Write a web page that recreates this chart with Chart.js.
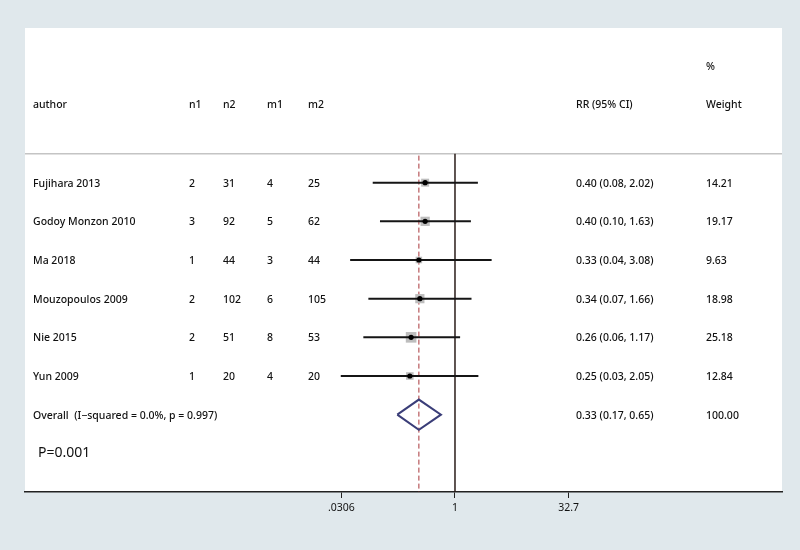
<!DOCTYPE html>
<html>
<head>
<meta charset="utf-8">
<script src="https://cdn.jsdelivr.net/npm/chart.js@4"></script>
<style>
  html, body { margin: 0; padding: 0; background: #e0e8ec; }
  #wrap { width: 800px; height: 550px; }
</style>
</head>
<body>
<div id="wrap"><canvas id="chart" width="800" height="550"></canvas></div>
<script>
// Données des études
const authors = ['Fujihara 2013', 'Godoy Monzon 2010', 'Ma 2018', 'Mouzopoulos 2009', 'Nie 2015', 'Yun 2009'];
const n1 = [2, 3, 1, 2, 2, 1];
const n2 = [31, 92, 44, 102, 51, 20];
const m1 = [4, 5, 3, 6, 8, 4];
const m2 = [25, 62, 44, 105, 53, 20];
const rr = [0.40, 0.40, 0.33, 0.34, 0.26, 0.25];
const rrLow = [0.08, 0.10, 0.04, 0.07, 0.06, 0.03];
const rrHigh = [2.02, 1.63, 3.08, 1.66, 1.17, 2.05];
const weights = [14.21, 19.17, 9.63, 18.98, 25.18, 12.84];

const overallLabel = 'Overall  (I\u2212squared = 0.0%, p = 0.997)';
const overallRR = 0.33;
const overallLow = 0.17;
const overallHigh = 0.65;
const overallWeight = '100.00';

const tickValues = [0.0306, 1, 32.7];
const tickLabels = ['.0306', '1', '32.7'];

const textFont = '500 10.5px "Noto Sans", sans-serif';
const textColor = '#111';

const overallRow = authors.length;
const fmt = v => v.toFixed(2);

// Datasets (order: plus petit = dessiné au-dessus)
const datasets = [];

// ligne de nullité
datasets.push({
    type: 'scatter',
    order: 5,
    data: [{ x: 1, y: -0.75 }, { x: 1, y: 8 }],
    showLine: true,
    borderColor: '#2a1d1a',
    borderWidth: 1.5,
    pointRadius: 0
});

// ligne de l'effet global
datasets.push({
    type: 'scatter',
    order: 4,
    data: [{ x: overallRR, y: -0.7 }, { x: overallRR, y: 8 }],
    showLine: true,
    borderColor: '#a8353a',
    borderWidth: 1,
    borderDash: [5, 3],
    pointRadius: 0
});

// carrés gris (poids)
datasets.push({
    type: 'scatter',
    order: 3,
    data: rr.map((v, i) => ({ x: v, y: i })),
    pointStyle: 'rect',
    pointRadius: weights.map(w => 7.5 * Math.sqrt(w / 25.18)),
    backgroundColor: '#bdbdbd',
    borderWidth: 0
});

// intervalles de confiance
authors.forEach((a, i) => {
    datasets.push({
        type: 'scatter',
        order: 2,
        data: [{ x: rrLow[i], y: i }, { x: rrHigh[i], y: i }],
        showLine: true,
        borderColor: '#151515',
        borderWidth: 2,
        pointRadius: 0
    });
});

// points centraux
datasets.push({
    type: 'scatter',
    order: 1,
    data: rr.map((v, i) => ({ x: v, y: i })),
    pointStyle: 'circle',
    pointRadius: 2.6,
    backgroundColor: '#000',
    borderWidth: 0
});

// losange global
datasets.push({
    type: 'scatter',
    order: 0,
    data: [
        { x: overallLow, y: overallRow },
        { x: overallRR, y: overallRow - 0.39 },
        { x: overallHigh, y: overallRow },
        { x: overallRR, y: overallRow + 0.39 },
        { x: overallLow, y: overallRow }
    ],
    showLine: true,
    borderColor: '#3a3d78',
    borderWidth: 2,
    pointRadius: 0,
    tension: 0
});

// Fond et textes du tableau
const tablePlugin = {
    id: 'table',
    beforeDraw(chart) {
        const { ctx, chartArea } = chart;
        ctx.save();
        ctx.fillStyle = '#e0e8ec';
        ctx.fillRect(0, 0, chart.width, chart.height);
        ctx.fillStyle = '#ffffff';
        ctx.fillRect(chartArea.left, chartArea.top, chartArea.right - chartArea.left, chartArea.bottom - chartArea.top);
        // séparateur sous l'en-tête
        const ySep = chart.scales.y.getPixelForValue(-0.75);
        ctx.strokeStyle = '#c4c4c4';
        ctx.lineWidth = 1.5;
        ctx.beginPath();
        ctx.moveTo(chartArea.left, ySep);
        ctx.lineTo(chartArea.right, ySep);
        ctx.stroke();
        ctx.restore();
    },
    afterDraw(chart) {
        const { ctx } = chart;
        const y = chart.scales.y;
        const cols = { author: 33, n1: 189, n2: 223, m1: 267, m2: 308, ci: 576, w: 706 };
        ctx.save();
        ctx.fillStyle = textColor;
        ctx.font = textFont;
        ctx.textBaseline = 'middle';
        ctx.textAlign = 'left';

        // en-tête
        const yHead = y.getPixelForValue(-2);
        ctx.fillText('author', cols.author, yHead);
        ctx.fillText('n1', cols.n1, yHead);
        ctx.fillText('n2', cols.n2, yHead);
        ctx.fillText('m1', cols.m1, yHead);
        ctx.fillText('m2', cols.m2, yHead);
        ctx.fillText('RR (95% CI)', cols.ci, yHead);
        ctx.fillText('Weight', cols.w, yHead);
        ctx.fillText('%', cols.w, y.getPixelForValue(-3));

        authors.forEach((a, i) => {
            const py = y.getPixelForValue(i) + 1;
            ctx.fillText(a, cols.author, py);
            ctx.fillText(String(n1[i]), cols.n1, py);
            ctx.fillText(String(n2[i]), cols.n2, py);
            ctx.fillText(String(m1[i]), cols.m1, py);
            ctx.fillText(String(m2[i]), cols.m2, py);
            ctx.fillText(`${fmt(rr[i])} (${fmt(rrLow[i])}, ${fmt(rrHigh[i])})`, cols.ci, py);
            ctx.fillText(fmt(weights[i]), cols.w, py);
        });

        const po = y.getPixelForValue(overallRow) + 1;
        ctx.fillText(overallLabel, cols.author, po);
        ctx.fillText(`${fmt(overallRR)} (${fmt(overallLow)}, ${fmt(overallHigh)})`, cols.ci, po);
        ctx.fillText(overallWeight, cols.w, po);

        ctx.font = '14px "Noto Sans", sans-serif';
        ctx.fillText('P=0.001', 38, y.getPixelForValue(overallRow + 0.98));
        ctx.restore();
    }
};

new Chart(document.getElementById('chart'), {
    type: 'scatter',
    data: { datasets },
    options: {
        responsive: false,
        animation: false,
        layout: { padding: { left: 25, right: 18, top: 28, bottom: 0 } },
        plugins: {
            legend: { display: false },
            tooltip: { enabled: false }
        },
        scales: {
            x: {
                type: 'logarithmic',
                min: Math.pow(10, -5.733),
                max: Math.pow(10, 4.36),
                afterBuildTicks: scale => {
                    scale.ticks = tickValues.map(v => ({ value: v }));
                },
                afterFit: scale => { scale.height = 58; },
                ticks: {
                    autoSkip: false,
                    maxRotation: 0,
                    padding: 4,
                    color: textColor,
                    font: { family: '"Noto Sans", sans-serif', size: 10.5 },
                    callback: (v) => {
                        const idx = tickValues.indexOf(v);
                        return idx >= 0 ? tickLabels[idx] : '';
                    }
                },
                grid: {
                    drawOnChartArea: false,
                    drawTicks: true,
                    tickLength: 6,
                    color: '#222'
                },
                border: { display: true, color: '#222', width: 1.5 }
            },
            y: {
                type: 'linear',
                display: false,
                reverse: true,
                min: -4,
                max: 8
            }
        }
    },
    plugins: [tablePlugin]
});
</script>
</body>
</html>
